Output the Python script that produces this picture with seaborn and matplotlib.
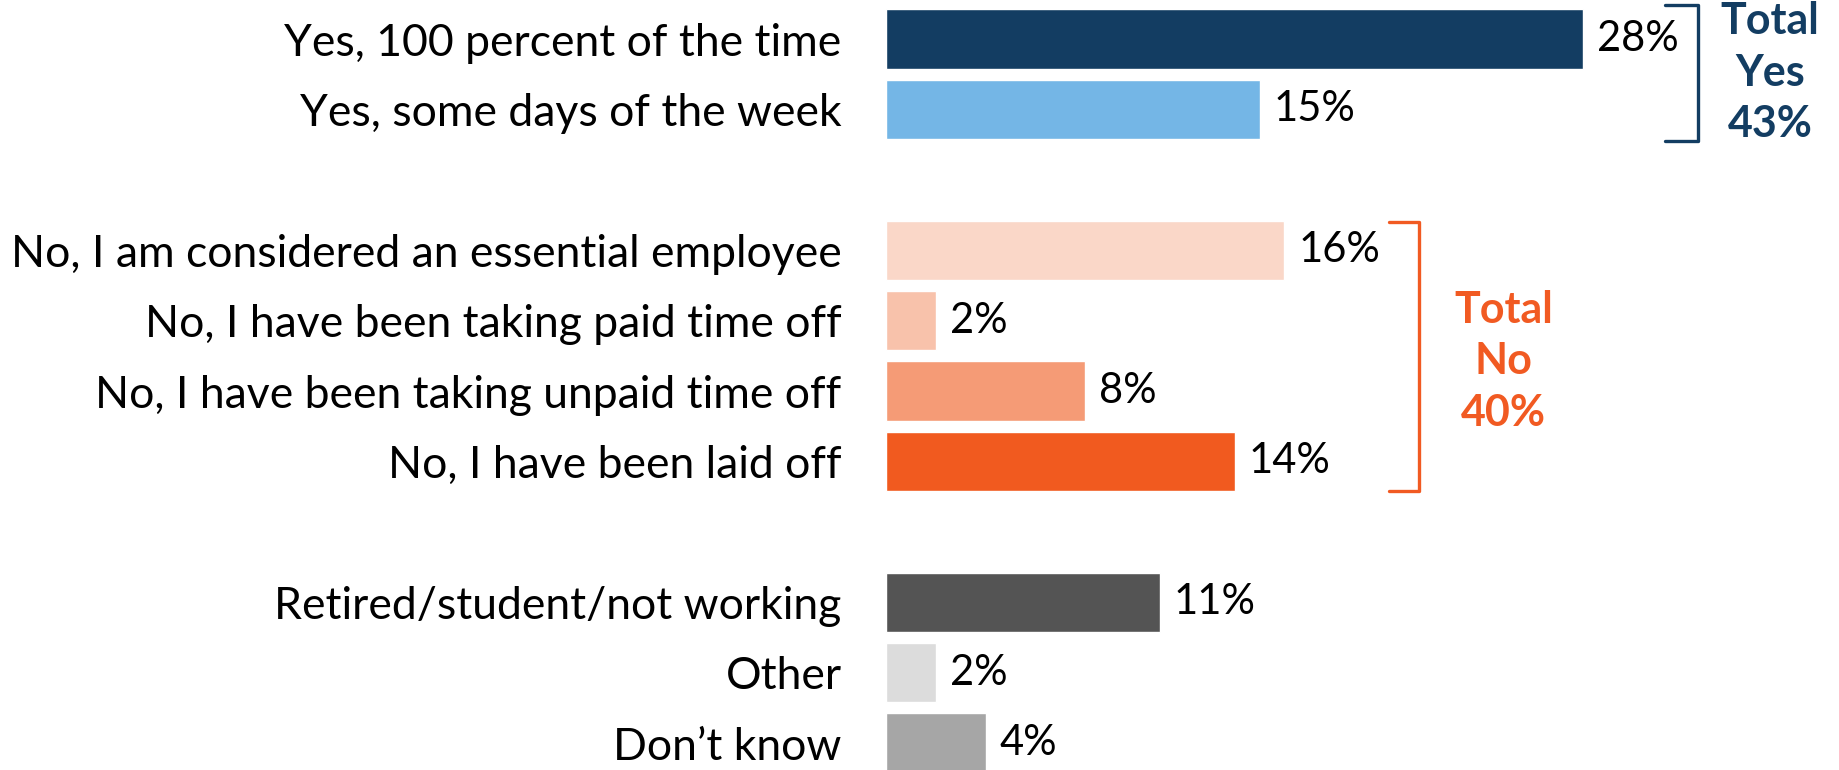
import matplotlib
matplotlib.use("Agg")
import matplotlib.pyplot as plt
import seaborn as sns
import pandas as pd

# Data
yes_labels = ["Yes, 100 percent of the time", "Yes, some days of the week"]
yes_values = [28, 15]
yes_colors = ["#133d62", "#74b6e6"]

no_labels = ["No, I am considered an essential employee",
             "No, I have been taking paid time off",
             "No, I have been taking unpaid time off",
             "No, I have been laid off"]
no_values = [16, 2, 8, 14]
no_colors = ["#fad7c8", "#f8c2ab", "#f59b76", "#f15a1f"]

rest_labels = ["Retired/student/not working", "Other", "Don\u2019t know"]
rest_values = [11, 2, 4]
rest_colors = ["#545454", "#dcdcdc", "#a6a6a6"]

navy = "#133d62"
orange = "#f15a22"

sns.set_theme(style="white")
plt.rcParams["font.family"] = ["Lato", "DejaVu Sans"]
FS = 32

labels = yes_labels + no_labels + rest_labels
values = yes_values + no_values + rest_values
colors = yes_colors + no_colors + rest_colors
df = pd.DataFrame({"label": labels, "value": values})

# blank rows between the three groups
order = yes_labels + [" "] + no_labels + ["  "] + rest_labels

fig = plt.figure(figsize=(18.39, 7.7), dpi=100)
ax = fig.add_axes([886 / 1839, 0, 1 - 886 / 1839, 1])

sns.barplot(data=df, x="value", y="label", order=order, hue="label",
            palette=dict(zip(labels, colors)), width=0.84, legend=False,
            saturation=1, ax=ax)

ax.set_xlim(0, (1839 - 886) / 24.9)
ax.set_ylim((770 - 39) / 70.4, -39 / 70.4)
ax.set_xlabel("")
ax.set_ylabel("")
ax.set_xticks([])
ax.tick_params(axis="y", length=0, pad=32, labelsize=FS, labelcolor="black")
sns.despine(ax=ax, left=True, bottom=True)

# value labels
for lab, val in zip(labels, values):
    ax.text(val + 0.56, order.index(lab), f"{val}%", va="center", ha="left",
            fontsize=30, color="black")

# brackets
def bracket(x0, x1, y0, y1, color):
    ax.plot([x0, x1, x1, x0], [y0, y0, y1, y1], color=color, lw=2.4,
            clip_on=False, solid_joinstyle="round")

yes_top = order.index(yes_labels[0])
yes_bot = order.index(yes_labels[-1])
bracket(31.3, 32.6, yes_top - 0.48, yes_bot + 0.45, navy)
ax.text(35.5, (yes_top + yes_bot) / 2 - 0.02, f"Total\nYes\n{sum(yes_values)}%",
        ha="center", va="center", fontsize=31, fontweight="bold",
        color=navy, linespacing=1.35)

no_top = order.index(no_labels[0])
no_bot = order.index(no_labels[-1])
bracket(20.2, 21.4, no_top - 0.4, no_bot + 0.42, orange)
ax.text(24.8, (no_top + no_bot) / 2 + 0.08, f"Total\nNo\n{sum(no_values)}%",
        ha="center", va="center", fontsize=31, fontweight="bold",
        color=orange, linespacing=1.35)

fig.savefig("out.png", dpi=100)
